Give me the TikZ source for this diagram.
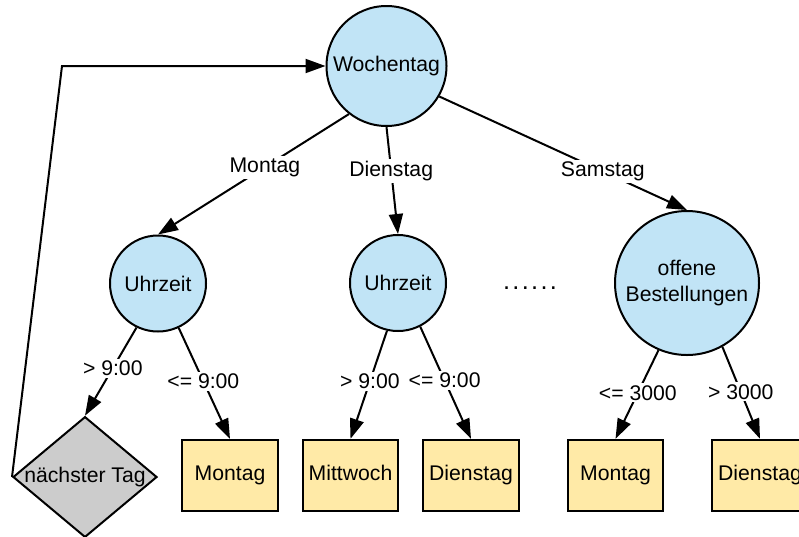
\documentclass[tikz,border=0pt]{standalone}
\usepackage{fontspec}
\setmainfont{Liberation Sans}
\usetikzlibrary{shapes.geometric,arrows.meta}
\definecolor{attrfill}{HTML}{C1E4F6}
\definecolor{leaffill}{HTML}{FFEAA7}
\definecolor{loopfill}{HTML}{CCCCCC}
\tikzset{
  attr/.style={circle, draw, line width=1.5pt, fill=attrfill, inner sep=0pt, align=center},
  leaf/.style={rectangle, draw, line width=1.5pt, fill=leaffill, inner sep=0pt,
               text height=11.4pt, text depth=3.3pt,
               minimum width=71.5pt, minimum height=53.5pt},
  loopnode/.style={diamond, draw, line width=1.5pt, fill=loopfill, inner sep=0pt,
               minimum width=108pt, minimum height=90.5pt},
  edge/.style={line width=1.5pt, -{Triangle[length=15pt,width=10.5pt]}},
  lbl/.style={fill=white, inner sep=1.5pt}
}
\begin{document}
\begin{tikzpicture}[x=0.75pt, y=-0.75pt,
  font=\fontsize{15.9pt}{20pt}\selectfont]
\useasboundingbox (0,0) rectangle (799,536);
\begin{scope}
\clip (0,0) rectangle (799,536);

% decision nodes
\node[attr, minimum size=90pt]  (W)  at (386.5,66)  {Wochentag};
\node[attr, minimum size=72pt]  (U1) at (158,283.5) {Uhrzeit};
\node[attr, minimum size=72pt]  (U2) at (398,283)   {Uhrzeit};
\node[attr, minimum size=108pt] (O)  at (687,283)   {offene\\Bestellungen};

% next-day loop node
\node[loopnode] (nt) at (85,477) {};
\node (ntlabel) at (nt.center) {nächster Tag};

% leaves
\node[leaf] (M1) at (230,475.5)   {Montag};
\node[leaf] (Mi) at (350.5,475.5) {Mittwoch};
\node[leaf] (D1) at (471,475.5)   {Dienstag};
\node[leaf] (M2) at (615.5,475.5) {Montag};
\node[leaf] (D2) at (760,475.5)   {Dienstag};

% omitted branches
\node[font=\fontsize{19pt}{20pt}\selectfont] (dots) at (530,288)
  {\addfontfeatures{LetterSpace=9.3}......};

% first level
\draw[edge] (W.232) -- node[lbl, pos=0.44] {Montag} (U1.north);
\draw[edge] (W.south) -- node[lbl, pos=0.41] {Dienstag} (U2.north);
\draw[edge] (W.-30) -- node[lbl, pos=0.66] {Samstag} (O.north);

% second level
\draw[edge] (U1.244) -- node[lbl, pos=0.46] {> 9:00} (nt.north);
\draw[edge] (U1.295) -- node[lbl, pos=0.48] {<= 9:00} (M1.north);
\draw[edge] (U2.257) -- node[lbl, pos=0.47] {> 9:00} (Mi.north);
\draw[edge] (U2.297) -- node[lbl, pos=0.48] {<= 9:00} (D1.north);
\draw[edge] (O.247) -- node[lbl, pos=0.48] {<= 3000} (M2.north);
\draw[edge] (O.299) -- node[lbl, pos=0.49] {> 3000} (D2.north);

% loop back to the weekday test
\coordinate (corner) at (62,66);
\draw[edge] (nt.west) -- (corner) -- (W.west);
\end{scope}
\end{tikzpicture}
\end{document}
